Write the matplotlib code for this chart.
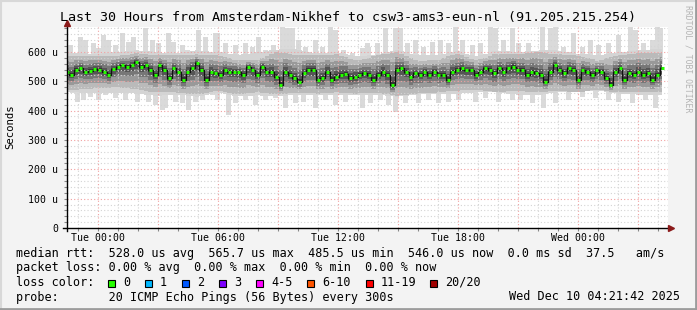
import numpy as np
import matplotlib.pyplot as plt
from matplotlib.patches import Rectangle
from matplotlib.lines import Line2D

W, H = 697, 310
MONO = 'DejaVu Sans Mono'

title = 'Last 30 Hours from Amsterdam-Nikhef to csw3-ams3-eun-nl (91.205.215.254)'

# time axis: hours relative to Tue 00:00
t_start, t_end = -1.55, 28.5
tick_hours = [0, 6, 12, 18, 24]
tick_labels = ['Tue 00:00', 'Tue 06:00', 'Tue 12:00', 'Tue 18:00', 'Wed 00:00']
y_ticks = [0, 100, 200, 300, 400, 500, 600]
y_labels = ['0', '100 u', '200 u', '300 u', '400 u', '500 u', '600 u']

# median rtt in microseconds left to right
median_us = [533, 522, 539, 544, 533, 536, 541, 539, 533, 522, 541, 550, 556, 550, 556,
             566, 550, 556, 539, 522, 556, 539, 510, 544, 533, 505, 533, 544, 561, 539,
             505, 533, 527, 522, 539, 533, 533, 530, 522, 550, 539, 522, 550, 533, 533,
             516, 487, 533, 522, 510, 499, 527, 539, 539, 505, 510, 533, 505,
             516, 522, 525, 510, 516, 522, 527, 522, 505, 522, 533, 522, 487, 539, 544,
             533, 516, 527, 522, 533, 522, 533, 522, 522, 505, 533, 539, 544, 539, 539,
             522, 533, 544, 539, 527, 544, 533, 544, 550, 539, 539, 522, 533, 527, 522,
             499, 533, 556, 539, 527, 544, 539, 505, 539, 533, 522, 539, 533, 510, 487,
             533, 544, 505, 527, 522, 533, 522, 527, 505, 522, 544]

# smoke extents per hour bin (us)
smoke_top = [598, 592, 600, 605, 600, 595, 605, 600, 590, 598, 608, 610, 595, 600, 585,
             592, 608, 588, 590, 602, 585, 605, 600, 605, 605, 595, 588, 598, 605, 610]
smoke_hi = [585, 588, 585, 595, 588, 588, 592, 588, 572, 572, 600, 588, 588, 592, 570,
            588, 600, 570, 572, 595, 570, 595, 592, 600, 592, 588, 570, 588, 595, 598]
smoke_lo = [472, 476, 480, 472, 462, 462, 455, 468, 455, 462, 455, 462, 458, 462, 458,
            462, 450, 458, 462, 468, 472, 462, 468, 462, 468, 462, 472, 462, 462, 462]
smoke_bot = [462, 458, 462, 458, 450, 455, 448, 462, 448, 452, 448, 455, 452, 452, 452,
             455, 448, 455, 455, 458, 462, 462, 455, 452, 462, 462, 468, 458, 455, 452]

# narrow light streaks above the smoke (hour, top us)
up_t = [-1.4, -0.9, -0.65, -0.25, 0.0, 0.25, 0.5, 0.85, 1.2, 1.5, 1.75, 2.35, 2.7, 3.0,
        3.5, 3.75, 4.2, 4.45, 5.0, 5.35, 5.85,
        5.95, 6.35, 6.85, 7.35, 7.7, 8.0, 8.35, 8.75, 9.2, 9.45, 9.7, 10.0, 10.35, 10.85,
        11.2, 11.6, 11.85, 12.25, 12.7, 13.2, 13.45,
        13.5, 13.95, 14.35, 14.85, 15.1, 15.45, 15.85, 16.25, 16.7, 17.1, 17.5, 17.85,
        18.2, 18.7, 19.1, 19.6, 19.85, 20.25, 20.7, 21.0,
        21.5, 22.2, 22.6, 22.85, 23.25, 23.75, 24.2, 24.6, 25.0, 25.5, 26.0, 26.6,
        26.85, 27.25, 27.7, 27.95, 28.1]
up_v = [624, 652, 641, 630, 612, 658, 641, 624, 664, 635, 650, 681, 641, 630,
        664, 635, 624, 607, 675, 652, 664,
        664, 630, 624, 630, 618, 652, 607, 624, 685, 681, 681, 641, 618, 641,
        618, 685, 675, 607, 596, 612, 630,
        618, 630, 681, 681, 681, 630, 641, 618, 635, 641, 630, 685,
        641, 624, 630, 685, 681, 641, 681, 630,
        630, 685, 681, 685, 618, 664, 618, 641, 624, 630, 658, 685,
        675, 630, 641, 685, 681]

# narrow light streaks below the smoke (hour, bottom us)
dn_t = [-1.3, -1.05, -0.75, -0.4, 0.0, 0.35, 0.85, 1.35, 1.95, 2.5, 2.85, 3.2, 3.35,
        3.85, 4.2, 4.5, 4.85, 5.2, 5.7, 5.95,
        6.5, 6.85, 7.35, 7.85, 8.35, 8.85, 9.35, 9.85, 10.25, 10.85, 11.35, 11.85, 12.35,
        13.2, 13.6, 14.1, 14.5, 14.85, 15.35, 16.0, 16.5, 17.0, 17.5, 18.0, 18.85, 19.35,
        20.0, 20.7, 21.1, 21.7, 22.25, 22.85, 23.5, 24.2, 24.85, 25.5, 26.0, 26.7,
        27.35, 27.85]
dn_v = [459, 430, 436, 448, 436, 453, 442, 436, 430, 430, 419, 402, 408,
        430, 425, 402, 430, 436, 453, 436,
        386, 425, 436, 419, 436, 442, 408, 425, 430, 408, 436, 419, 430,
        408, 425, 436, 419, 397, 425, 425, 436, 425, 430, 436, 430, 442,
        430, 436, 436, 425, 408, 425, 436, 448, 442, 436, 430, 425,
        436, 408]

stats_lines = [
    'median rtt:  528.0 us avg  565.7 us max  485.5 us min  546.0 us now  0.0 ms sd  37.5   am/s',
    'packet loss: 0.00 % avg  0.00 % max  0.00 % min  0.00 % now',
]
loss_labels = ['0', '1', '2', '3', '4-5', '6-10', '11-19', '20/20']
loss_colors = ['#26ff00', '#00b8ff', '#0059ff', '#7e00ff', '#ff00ff', '#ff5500', '#ff0000', '#a10000']
loss_box_x = [108, 145, 182, 219, 256, 307, 366, 430]
loss_text_x = [123, 160, 197, 234, 271, 322, 381, 445]
probe_text = 'probe:       20 ICMP Echo Pings (56 Bytes) every 300s'
stamp = 'Wed Dec 10 04:21:42 2025'


def fx(x):
    return x / W


def fy(y):
    return 1 - y / H


fig = plt.figure(figsize=(W / 100, H / 100), dpi=100, facecolor='#f3f3f3')
ax = fig.add_axes([fx(67), fy(228), 601 / W, 201 / H])
ax.set_facecolor('white')
ax.set_xlim(t_start, t_end)
ax.set_ylim(0, 685)

med = np.array(median_us, dtype=float)
t_med = np.linspace(-1.55, 28.2, len(med))
t_bin = t_start + 0.5 + np.arange(len(smoke_top))
top = np.interp(t_med, t_bin, smoke_top)
hi = np.interp(t_med, t_bin, smoke_hi)
lo = np.interp(t_med, t_bin, smoke_lo)
bot = np.interp(t_med, t_bin, smoke_bot)

# streaks behind the smoke
ax.bar(up_t, np.array(up_v) - 560, bottom=560, width=0.25,
       color='#dadada', lw=0, zorder=1.5)
ax.bar(dn_t, 500 - np.array(dn_v), bottom=dn_v, width=0.25,
       color='#dadada', lw=0, zorder=1.5)

# smoke layers, light to dark
ax.fill_between(t_med, bot, top, step='mid', color='#d4d4d4', lw=0, zorder=2)
layers = [(1.0, '#bababa'), (0.7, '#999999'), (0.45, '#777777'), (0.25, '#555555'), (0.1, '#333333')]
for f, c in layers:
    ax.fill_between(t_med, med - f * (med - lo), med + f * (hi - med), step='mid',
                    color=c, lw=0, zorder=2.2)

# grid (rrdtool puts it over the smoke)
for h in range(-1, 29):
    c = '#f2a0a0' if h % 3 == 0 else '#d4d4d4'
    ax.axvline(h, color=c, lw=0.8, ls=(0, (1, 2)), zorder=3)
for v in range(20, 685, 20):
    c = '#f2a0a0' if v % 100 == 0 else '#d4d4d4'
    ax.axhline(v, color=c, lw=0.8, ls=(0, (1, 2)), zorder=3)

# median line
ax.step(t_med, med, where='mid', color='#111111', lw=0.9, zorder=5)
ax.hlines(med, t_med - 0.075, t_med + 0.075, color=loss_colors[0], lw=2.2, zorder=6)

# axes with arrows
for s in ax.spines.values():
    s.set_visible(False)
ax.plot([t_start - 0.2, t_end + 0.1], [0, 0], color='black', lw=1, clip_on=False, zorder=7)
ax.plot([t_start, t_start], [-10, 690], color='black', lw=1, clip_on=False, zorder=7)
ax.plot([t_end + 0.15], [0], marker='>', color='#8b1a1a', ms=5, clip_on=False, zorder=8)
ax.plot([t_start], [697], marker='^', color='#8b1a1a', ms=5, clip_on=False, zorder=8)

ax.set_xticks(tick_hours, tick_labels)
ax.set_xticks(range(-1, 29), minor=True)
ax.set_yticks(y_ticks, y_labels)
ax.set_yticks(range(20, 685, 20), minor=True)
ax.tick_params(which='both', length=2, width=0.8, color='#888888')
ax.tick_params(axis='x', labelsize=7.1, pad=1.5)
ax.tick_params(axis='y', labelsize=7.1, pad=4.5)
for lab in ax.get_xticklabels() + ax.get_yticklabels():
    lab.set_family(MONO)

fig.text(fx(10), fy(127), 'Seconds', rotation=90, ha='center', va='center',
         family=MONO, size=7.7)
fig.text(fx(348), fy(18), title, ha='center', va='center', family=MONO, size=9.6)
fig.text(fx(688), fy(5), 'RRDTOOL / TOBI OETIKER', rotation=-90, ha='center', va='top',
         family=MONO, size=5.9, color='#b4b4b4')

# legend block
fig.text(fx(16), fy(254), stats_lines[0], va='center', family=MONO, size=8.5)
fig.text(fx(16), fy(268), stats_lines[1], va='center', family=MONO, size=8.5)
fig.text(fx(16), fy(282), 'loss color:', va='center', family=MONO, size=8.5)
for bx, tx, lab, c in zip(loss_box_x, loss_text_x, loss_labels, loss_colors):
    fig.patches.append(Rectangle((fx(bx), fy(287)), 7 / W, 7 / H, transform=fig.transFigure,
                                 facecolor=c, edgecolor='black', lw=0.8))
    fig.text(fx(tx), fy(282), lab, va='center', family=MONO, size=8.5)
fig.text(fx(16), fy(297), probe_text, va='center', family=MONO, size=8.5)
fig.text(fx(680), fy(297), stamp, ha='right', va='center', family=MONO, size=8.5)

# frame shading
fig.add_artist(Line2D([0, 1], [fy(0.5), fy(0.5)], transform=fig.transFigure, color='#d8d8d8', lw=1.5))
fig.add_artist(Line2D([fx(0.5), fx(0.5)], [0, 1], transform=fig.transFigure, color='#d8d8d8', lw=1.5))
fig.add_artist(Line2D([0, 1], [fy(308.5), fy(308.5)], transform=fig.transFigure, color='#9c9c9c', lw=2))
fig.add_artist(Line2D([fx(695.5), fx(695.5)], [0, 1], transform=fig.transFigure, color='#9c9c9c', lw=2))

fig.savefig('out.png', dpi=100, facecolor=fig.get_facecolor())
